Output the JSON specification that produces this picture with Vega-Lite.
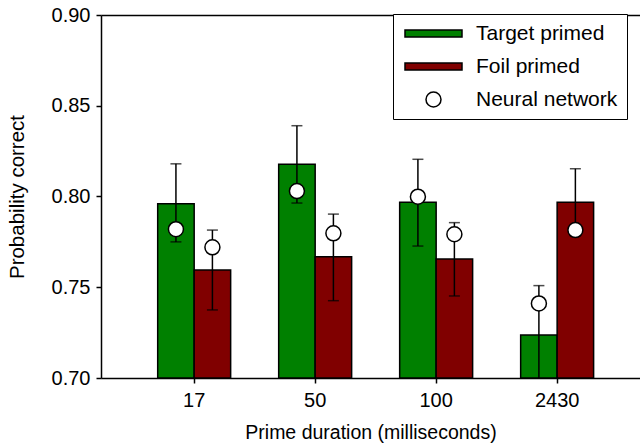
{
  "$schema": "https://vega.github.io/schema/vega-lite/v6.json",
  "width": 539,
  "height": 363,
  "autosize": "none",
  "padding": {"left": 101, "top": 15, "right": 0, "bottom": 67},
  "config": {
    "font": "Liberation Sans",
    "view": {"stroke": null},
    "axis": {
      "domainColor": "black", "tickColor": "black", "labelColor": "black", "titleColor": "black",
      "grid": false, "labelFont": "Liberation Sans", "titleFont": "Liberation Sans",
      "titleFontWeight": "normal", "domainWidth": 1.5, "tickWidth": 1.5, "tickSize": 5
    }
  },
  "datasets": {
    "bars": [
      {"duration": "17", "condition": "Target primed", "series": "Target primed", "value": 0.796, "lo": 0.775, "hi": 0.818},
      {"duration": "17", "condition": "Foil primed", "series": "Foil primed", "value": 0.7595, "lo": 0.7375, "hi": 0.7815},
      {"duration": "50", "condition": "Target primed", "series": "Target primed", "value": 0.8177, "lo": 0.7964, "hi": 0.839},
      {"duration": "50", "condition": "Foil primed", "series": "Foil primed", "value": 0.7668, "lo": 0.7426, "hi": 0.7903},
      {"duration": "100", "condition": "Target primed", "series": "Target primed", "value": 0.7968, "lo": 0.7727, "hi": 0.8205},
      {"duration": "100", "condition": "Foil primed", "series": "Foil primed", "value": 0.7656, "lo": 0.7452, "hi": 0.7856},
      {"duration": "2430", "condition": "Target primed", "series": "Target primed", "value": 0.7237, "lo": 0.6965, "hi": 0.7509},
      {"duration": "2430", "condition": "Foil primed", "series": "Foil primed", "value": 0.7968, "lo": 0.7783, "hi": 0.8153}
    ],
    "nn": [
      {"duration": "17", "condition": "Target primed", "series": "Neural network", "nn": 0.782},
      {"duration": "17", "condition": "Foil primed", "series": "Neural network", "nn": 0.772},
      {"duration": "50", "condition": "Target primed", "series": "Neural network", "nn": 0.803},
      {"duration": "50", "condition": "Foil primed", "series": "Neural network", "nn": 0.7797},
      {"duration": "100", "condition": "Target primed", "series": "Neural network", "nn": 0.7999},
      {"duration": "100", "condition": "Foil primed", "series": "Neural network", "nn": 0.7792},
      {"duration": "2430", "condition": "Target primed", "series": "Neural network", "nn": 0.7411},
      {"duration": "2430", "condition": "Foil primed", "series": "Neural network", "nn": 0.7815}
    ]
  },
  "resolve": {"axis": {"x": "independent"}},
  "layer": [
    {
      "data": {"name": "bars"},
      "mark": {"type": "bar", "stroke": "black", "strokeWidth": 1.5, "clip": true},
      "encoding": {
        "x": {
          "field": "duration", "type": "nominal", "sort": ["17", "50", "100", "2430"],
          "scale": {"paddingInner": 0.397, "paddingOuter": 0.426, "align": 0.55, "round": false},
          "axis": {"orient": "bottom", "title": "Prime duration (milliseconds)", "labelAngle": 0,
                   "labelFontSize": 20, "titleFontSize": 19.5, "labelPadding": 7, "titlePadding": 13}
        },
        "xOffset": {
          "field": "condition", "type": "nominal",
          "scale": {"domain": ["Target primed", "Foil primed"], "paddingInner": 0, "paddingOuter": 0}
        },
        "y": {
          "field": "value", "type": "quantitative",
          "scale": {"domain": [0.7, 0.9], "nice": false, "zero": false},
          "axis": {"title": "Probability correct", "values": [0.7, 0.75, 0.8, 0.85, 0.9], "format": ".2f",
                   "labelFontSize": 20, "titleFontSize": 20.5, "labelPadding": 6, "titlePadding": 24}
        },
        "y2": {"datum": 0.7},
        "fill": {
          "field": "series", "type": "nominal",
          "scale": {"domain": ["Target primed", "Foil primed", "Neural network"], "range": ["#008000", "#800000", "white"]},
          "legend": {"title": null, "orient": "none", "legendX": 292, "legendY": -1, "padding": 9,
                     "strokeColor": "black", "fillColor": "white",
                     "labelFontSize": 21, "labelColor": "black", "labelFont": "Liberation Sans",
                     "symbolOffset": 21, "labelOffset": 32, "rowPadding": 11,
                     "symbolStrokeColor": "black", "symbolStrokeWidth": 1.5, "symbolSize": 324}
        }
      }
    },
    {
      "data": {"name": "bars"},
      "mark": {"type": "rule", "color": "black", "strokeWidth": 1.5, "clip": true},
      "encoding": {
        "x": {"field": "duration", "type": "nominal", "sort": ["17", "50", "100", "2430"],
              "axis": {"orient": "top", "labels": false, "ticks": false, "title": null, "domain": true}},
        "xOffset": {"field": "condition", "type": "nominal"},
        "y": {"field": "lo", "type": "quantitative"},
        "y2": {"field": "hi"}
      }
    },
    {
      "data": {"name": "bars"},
      "mark": {"type": "tick", "color": "black", "size": 11, "thickness": 1.5, "clip": true},
      "encoding": {
        "x": {"field": "duration", "type": "nominal", "sort": ["17", "50", "100", "2430"], "axis": null},
        "xOffset": {"field": "condition", "type": "nominal"},
        "y": {"field": "lo", "type": "quantitative"}
      }
    },
    {
      "data": {"name": "bars"},
      "mark": {"type": "tick", "color": "black", "size": 11, "thickness": 1.5, "clip": true},
      "encoding": {
        "x": {"field": "duration", "type": "nominal", "sort": ["17", "50", "100", "2430"], "axis": null},
        "xOffset": {"field": "condition", "type": "nominal"},
        "y": {"field": "hi", "type": "quantitative"}
      }
    },
    {
      "data": {"name": "nn"},
      "mark": {"type": "point", "filled": true, "stroke": "black", "strokeWidth": 1.5, "opacity": 1, "size": 324},
      "encoding": {
        "x": {"field": "duration", "type": "nominal", "sort": ["17", "50", "100", "2430"], "axis": null},
        "xOffset": {"field": "condition", "type": "nominal"},
        "y": {"field": "nn", "type": "quantitative"},
        "fill": {"field": "series", "type": "nominal"},
        "shape": {
          "field": "series", "type": "nominal",
          "scale": {"domain": ["Target primed", "Foil primed", "Neural network"],
                    "range": ["M-3.167,-0.389H3.167V0.389H-3.167Z", "M-3.167,-0.389H3.167V0.389H-3.167Z",
                              "M0.833,0A0.833,0.833,0,1,1,-0.833,0A0.833,0.833,0,1,1,0.833,0Z"]},
          "legend": {"title": null, "orient": "none", "legendX": 292, "legendY": -1, "padding": 9,
                     "strokeColor": "black", "fillColor": "white",
                     "labelFontSize": 21, "labelColor": "black", "labelFont": "Liberation Sans",
                     "symbolOffset": 21, "labelOffset": 32, "rowPadding": 11,
                     "symbolStrokeColor": "black", "symbolStrokeWidth": 1.5, "symbolSize": 324}
        }
      }
    }
  ]
}
